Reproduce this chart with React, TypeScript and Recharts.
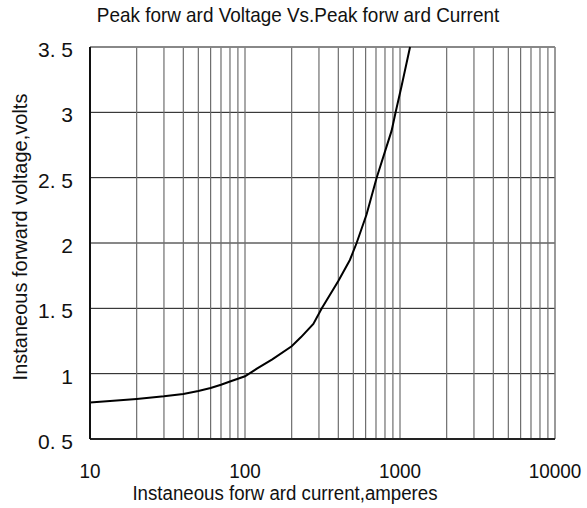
import { CartesianGrid, Label, Line, LineChart, ReferenceLine, XAxis, YAxis } from "recharts";

// forward current (A) vs instantaneous forward voltage (V)
const currents = [10, 20, 30, 40, 50, 60, 70, 80, 100, 120, 150, 200, 230, 276, 313, 400, 475, 525, 609, 707, 883, 937, 1023, 1161];
const voltages = [0.78, 0.807, 0.827, 0.845, 0.868, 0.89, 0.915, 0.94, 0.98, 1.04, 1.11, 1.21, 1.28, 1.38, 1.5, 1.71, 1.87, 2.0, 2.22, 2.5, 2.86, 3.0, 3.2, 3.5];

const xTicks = [10, 100, 1000, 10000];
const minorX = [20, 30, 40, 50, 60, 70, 80, 90, 100, 200, 300, 400, 500, 600, 700, 800, 900, 1000, 2000, 3000, 4000, 5000, 6000, 7000, 8000, 9000];
const yTicks = [0.5, 1, 1.5, 2, 2.5, 3, 3.5];
const yTickLabels = ["0. 5", "1", "1. 5", "2", "2. 5", "3", "3. 5"];

const title = "Peak forw ard Voltage Vs.Peak forw ard Current";
const xTitle = "Instaneous forw ard current,amperes";
const yTitle = "Instaneous forward voltage,volts";

const data = currents.map((current, i) => ({ current, voltage: voltages[i] }));

const font = "'Liberation Sans', Arial, sans-serif";

// the original uses a slightly condensed face, squeeze the text horizontally
function XTick({ x, y, payload }: any) {
  return (
    <text transform={`translate(${x},${y}) scale(0.9,1)`} textAnchor="middle" dy={25} fill="#111" fontSize={21} fontFamily={font}>
      {payload.value}
    </text>
  );
}

function YTick({ x, y, payload }: any) {
  const label = yTickLabels[yTicks.indexOf(payload.value)] ?? String(payload.value);
  return (
    <text x={x} y={y} textAnchor="end" dy={10} fill="#111" fontSize={21} fontFamily={font}>
      {label}
    </text>
  );
}

export default function App() {
  return (
    <div style={{ position: "absolute", left: 0, top: 0, width: 587, height: 508, background: "#fff", fontFamily: font }}>
      <div
        style={{
          position: "absolute",
          left: 0,
          top: 2,
          width: 596,
          textAlign: "center",
          fontSize: 21,
          lineHeight: "26px",
          color: "#111",
          transform: "scaleX(0.9)",
          transformOrigin: "298px 0",
        }}
      >
        {title}
      </div>
      <LineChart width={587} height={508} data={data} margin={{ top: 47, right: 32, bottom: 7, left: 0 }}>
        <CartesianGrid vertical={false} horizontal stroke="#111" strokeWidth={1} />
        {minorX.map((v) => (
          <ReferenceLine key={v} x={v} stroke="#6e6e6e" strokeWidth={1.2} ifOverflow="hidden" />
        ))}
        <ReferenceLine x={10000} stroke="#777" strokeWidth={1.5} />
        <ReferenceLine y={3.5} stroke="#888" strokeWidth={1.5} />
        <XAxis
          dataKey="current"
          type="number"
          scale="log"
          domain={[10, 10000]}
          ticks={xTicks}
          allowDataOverflow
          height={62}
          tickLine={false}
          tickMargin={8}
          axisLine={{ stroke: "#222", strokeWidth: 2 }}
          tick={<XTick />}
        >
          <Label
            content={() => (
              <text
                transform="translate(285,500) scale(0.89,1)"
                textAnchor="middle"
                fill="#111"
                fontSize={21}
                fontFamily={font}
              >
                {xTitle}
              </text>
            )}
          />
        </XAxis>
        <YAxis
          type="number"
          domain={[0.5, 3.5]}
          ticks={yTicks}
          width={90}
          tickLine={false}
          tickMargin={11}
          axisLine={{ stroke: "#111", strokeWidth: 2 }}
          tick={<YTick />}
        >
          <Label
            content={() => (
              <text
                x={20}
                y={237}
                transform="rotate(-90 20 237)"
                textAnchor="middle"
                dominantBaseline="central"
                fill="#111"
                fontSize={20}
                fontFamily={font}
              >
                {yTitle}
              </text>
            )}
          />
        </YAxis>
        <Line
          type="linear"
          dataKey="voltage"
          stroke="#000"
          strokeWidth={2}
          dot={false}
          isAnimationActive={false}
        />
      </LineChart>
    </div>
  );
}
